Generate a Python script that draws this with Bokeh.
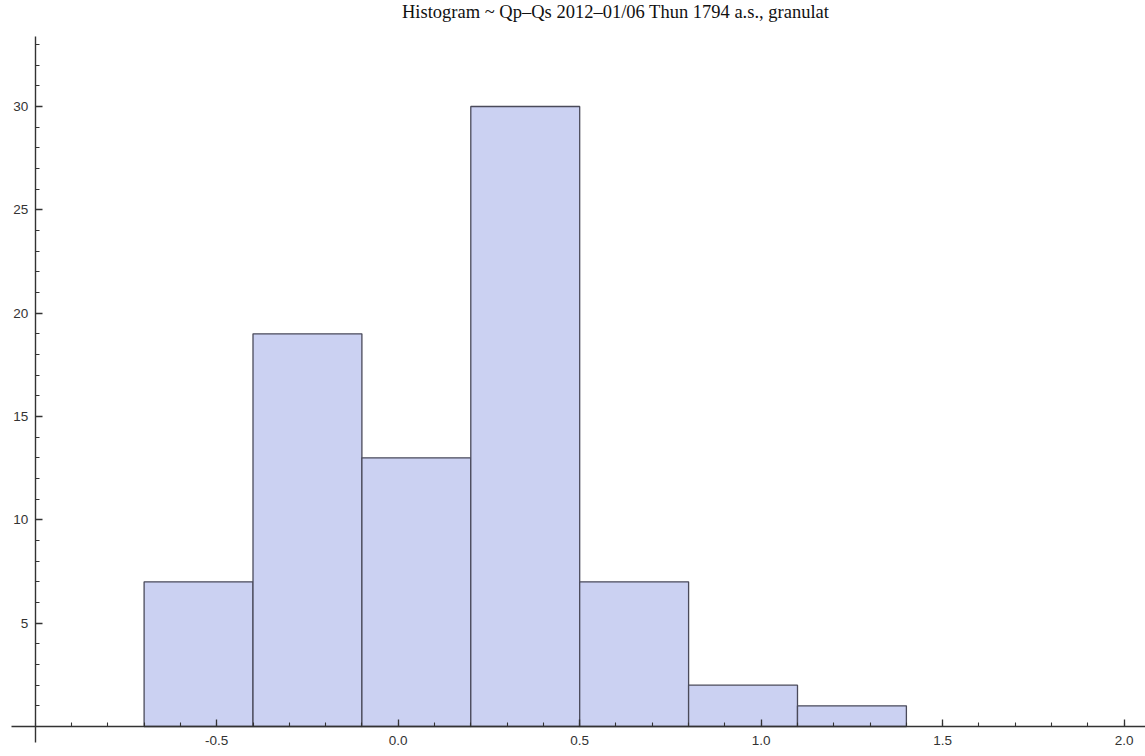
from bokeh.plotting import figure
from bokeh.models import Range1d, FixedTicker, PrintfTickFormatter, Label, ColumnDataSource
from bokeh.embed import file_html
from bokeh.resources import INLINE

# data
bin_left = [-0.7, -0.4, -0.1, 0.2, 0.5, 0.8, 1.1]
bin_right = [-0.4, -0.1, 0.2, 0.5, 0.8, 1.1, 1.4]
counts = [7, 19, 13, 30, 7, 2, 1]
x_major_ticks = [-0.5, 0.0, 0.5, 1.0, 1.5, 2.0]
y_major_ticks = [5, 10, 15, 20, 25, 30]
title_text = "Histogram ~ Qp\u2013Qs 2012\u201301/06 Thun 1794 a.s., granulat"

x_minor = [round(-1.0 + 0.1 * i, 1) for i in range(31)]
y_minor = list(range(1, 34))

p = figure(width=1145, height=756, output_backend="svg", toolbar_location=None,
           x_range=Range1d(-1.0956, 2.0587), y_range=Range1d(-1.452, 35.13),
           min_border_left=0, min_border_right=0, min_border_top=0, min_border_bottom=0)
p.outline_line_color = None
p.grid.visible = False
p.background_fill_color = "white"
p.border_fill_color = "white"

src = ColumnDataSource(dict(left=bin_left, right=bin_right, top=counts, bottom=[0] * len(counts)))
p.quad(left="left", right="right", top="top", bottom="bottom", source=src,
       fill_color="#CBD1F2", line_color="#4a4a5a", line_width=1.3)

for ax in (p.xaxis[0], p.yaxis[0]):
    ax.axis_line_color = "#333333"
    ax.axis_line_width = 1.4
    ax.major_tick_line_color = "#333333"
    ax.minor_tick_line_color = "#333333"
    ax.major_tick_line_width = 1.3
    ax.minor_tick_line_width = 1.1
    ax.major_tick_in = 7
    ax.major_tick_out = 0
    ax.minor_tick_in = 4
    ax.minor_tick_out = 0
    ax.major_label_text_font = "Liberation Sans"
    ax.major_label_text_font_size = "13.5px"
    ax.major_label_text_color = "#333333"

p.xaxis.fixed_location = 0
p.yaxis.fixed_location = -1.0
p.xaxis.bounds = (-1.065, 2.0587)
p.yaxis.bounds = (-0.76, 33.4)
p.xaxis.ticker = FixedTicker(ticks=x_major_ticks, minor_ticks=x_minor)
p.yaxis.ticker = FixedTicker(ticks=y_major_ticks, minor_ticks=y_minor)
p.xaxis.formatter = PrintfTickFormatter(format="%.1f")
p.xaxis.major_label_standoff = 10
p.yaxis.major_label_standoff = 7

p.add_layout(Label(x=0.599, y=34.55, text=title_text, text_align="center",
                   text_baseline="middle", text_font="Liberation Serif",
                   text_font_size="18.5px", text_color="#111111"))

open("out.html", "w").write(file_html(p, INLINE))
